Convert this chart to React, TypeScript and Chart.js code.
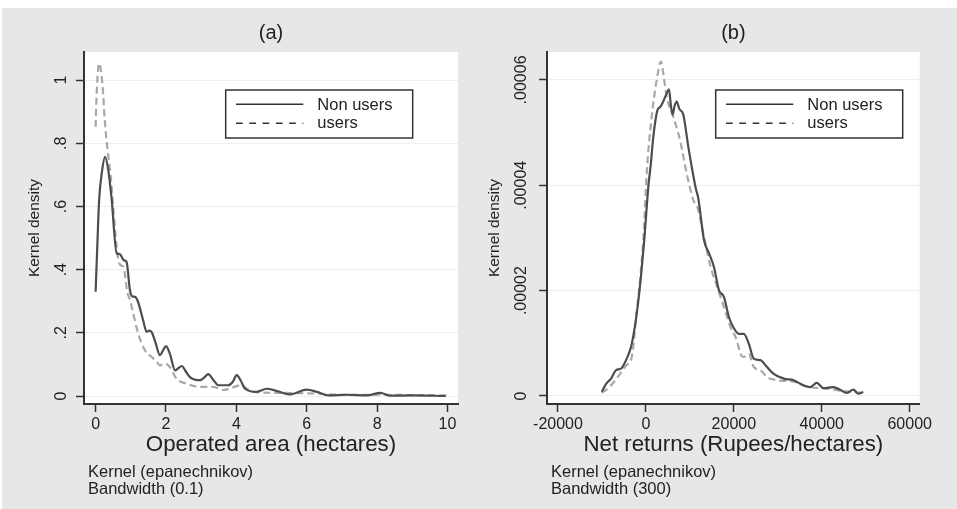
import React, { useEffect, useRef } from "react";
import { Chart, registerables } from "chart.js";

Chart.register(...registerables);

const FONT = '"Liberation Sans", Arial, Helvetica, sans-serif';

// ---------- Panel (a): Operated area ----------
const areaNonUsersX = [0, 0.04, 0.1, 0.18, 0.27, 0.36, 0.45, 0.6, 0.69, 0.8, 0.88, 0.976, 1.05, 1.12, 1.2, 1.35, 1.45, 1.52, 1.59, 1.7, 1.83, 1.92, 2.0, 2.11, 2.26, 2.35, 2.45, 2.55, 2.68, 2.97, 3.08, 3.2, 3.35, 3.49, 3.77, 3.9, 4.01, 4.12, 4.25, 4.58, 4.86, 5.15, 5.53, 6.0, 6.29, 6.62, 7.14, 7.71, 8.09, 8.37, 9.0, 9.95];
const areaNonUsersY = [0.33, 0.45, 0.62, 0.71, 0.757, 0.715, 0.63, 0.451, 0.449, 0.43, 0.424, 0.335, 0.315, 0.314, 0.3, 0.24, 0.203, 0.207, 0.203, 0.17, 0.129, 0.145, 0.158, 0.134, 0.081, 0.088, 0.095, 0.08, 0.06, 0.05, 0.058, 0.069, 0.05, 0.034, 0.034, 0.045, 0.066, 0.05, 0.023, 0.013, 0.023, 0.016, 0.005, 0.02, 0.013, 0.002, 0.004, 0.002, 0.01, 0.001, 0.002, 0];
const areaUsersX = [0, 0.03, 0.1, 0.2, 0.26, 0.33, 0.43, 0.5, 0.62, 0.7, 0.79, 0.9, 0.98, 1.07, 1.21, 1.4, 1.59, 1.72, 1.83, 1.97, 2.11, 2.3, 2.59, 2.97, 3.35, 3.63, 3.85, 4.1, 4.48, 5.24, 6.19, 7, 8, 9, 10];
const areaUsersY = [0.852, 0.958, 1.053, 0.979, 0.873, 0.789, 0.694, 0.599, 0.45, 0.415, 0.409, 0.33, 0.303, 0.261, 0.198, 0.145, 0.124, 0.11, 0.097, 0.103, 0.092, 0.055, 0.039, 0.029, 0.029, 0.019, 0.025, 0.034, 0.013, 0.01, 0.008, 0.004, 0.004, 0.003, 0.002];
const areaXTicks = [0, 2, 4, 6, 8, 10];
const areaYTicks = [0, 0.2, 0.4, 0.6, 0.8, 1];
const areaYTickLabels = ["0", ".2", ".4", ".6", ".8", "1"];

// ---------- Panel (b): Net returns ----------
const returnsNonUsersX = [-10040, -9057, -7925, -6792, -5660, -4528, -3396, -2642, -1887, -1132, -377, 543, 1132, 1680, 2642, 3203, 3774, 4500, 5250, 5700, 6092, 6500, 7002, 7600, 8504, 9642, 10416, 11321, 11917, 13208, 14340, 15472, 16604, 17736, 18868, 19849, 21132, 22264, 23396, 24528, 26038, 27547, 29057, 31321, 33585, 35849, 37358, 38868, 40377, 42642, 44151, 45660, 47170, 48302, 49434];
const returnsNonUsersY = [0.8e-6, 2.3e-6, 3.3e-6, 4.9e-6, 5.2e-6, 6.8e-6, 9.3e-6, 12.5e-6, 16.9e-6, 22.6e-6, 29.6e-6, 39.7e-6, 44.2e-6, 49.2e-6, 54.3e-6, 54.8e-6, 55.6e-6, 57.0e-6, 58.2e-6, 55.0e-6, 53.4e-6, 55.0e-6, 55.9e-6, 54.5e-6, 53.4e-6, 47.3e-6, 43.5e-6, 39.5e-6, 37.5e-6, 29.6e-6, 27.1e-6, 24.5e-6, 20.1e-6, 18.8e-6, 15.0e-6, 13.1e-6, 11.8e-6, 11.8e-6, 9.95e-6, 7.1e-6, 6.8e-6, 5.5e-6, 4.2e-6, 3.3e-6, 3.0e-6, 2.0e-6, 1.7e-6, 2.5e-6, 1.5e-6, 1.7e-6, 1.2e-6, 0.57e-6, 1.2e-6, 0.44e-6, 0.76e-6];
const returnsUsersX = [-10060, -8302, -5880, -4528, -3220, -2100, -1270, -500, 178, 1316, 2454, 3430, 4151, 4726, 6228, 7744, 9260, 10780, 11698, 13208, 14717, 16100, 17736, 19245, 20660, 21509, 22264, 23396, 24528, 26038, 27547, 29811, 33585, 37358, 41132, 44906, 49434];
const returnsUsersY = [0.6e-6, 1.7e-6, 4.2e-6, 5.8e-6, 7.4e-6, 16.0e-6, 22.6e-6, 30.9e-6, 42.3e-6, 53.0e-6, 60.0e-6, 63.5e-6, 60.0e-6, 56.8e-6, 53.0e-6, 48.6e-6, 42.3e-6, 37.2e-6, 35.9e-6, 30.2e-6, 24.5e-6, 21.0e-6, 16.9e-6, 13.1e-6, 10.6e-6, 8.0e-6, 7.4e-6, 8.0e-6, 5.5e-6, 4.9e-6, 3.6e-6, 3.0e-6, 2.7e-6, 1.7e-6, 1.4e-6, 0.95e-6, 0.57e-6];
const returnsXTicks = [-20000, 0, 20000, 40000, 60000];
const returnsYTicks = [0, 0.00002, 0.00004, 0.00006];
const returnsYTickLabels = ["0", ".00002", ".00004", ".00006"];

// ---------- Texts ----------
const seriesLabels = ["Non users", "users"];
const panelTitles = ["(a)", "(b)"];
const yTitle = "Kernel density";
const xTitles = ["Operated area (hectares)", "Net returns (Rupees/hectares)"];
const panelNotes = [
  ["Kernel (epanechnikov)", "Bandwidth (0.1)"],
  ["Kernel (epanechnikov)", "Bandwidth (300)"],
];

const toPoints = (xs: number[], ys: number[]) => xs.map((x, i) => ({ x, y: ys[i] }));

type PanelCfg = {
  left: number;
  width: number;
  title: string;
  xTitle: string;
  notes: string[];
  nonX: number[];
  nonY: number[];
  usrX: number[];
  usrY: number[];
  xTicks: number[];
  yTicks: number[];
  yTickLabels: string[];
  xMin: number;
  xMax: number;
  yMin: number;
  yMax: number;
  yAxisWidth: number;
  yTitlePad: number;
  yLabelGap: number;
  padRight: number;
  legendDX: number;
};

const HEIGHT = 509;

function Panel({ cfg }: { cfg: PanelCfg }) {
  const ref = useRef<HTMLCanvasElement>(null);

  useEffect(() => {
    if (!ref.current) return;
    const extras = {
      id: "panelExtras",
      beforeDraw(chart: any) {
        const { ctx, chartArea: a } = chart;
        ctx.save();
        ctx.fillStyle = "#ffffff";
        ctx.fillRect(a.left, a.top, a.right - a.left, a.bottom - a.top);
        ctx.restore();
      },
      afterDraw(chart: any) {
        const { ctx, chartArea: a } = chart;
        const ys = chart.scales.y;
        const xs = chart.scales.x;
        ctx.save();
        // rotated y tick labels
        ctx.fillStyle = "#222";
        ctx.font = `16px ${FONT}`;
        ctx.textAlign = "center";
        ctx.textBaseline = "middle";
        cfg.yTicks.forEach((v, i) => {
          const py = ys.getPixelForValue(v);
          ctx.save();
          ctx.translate(ys.right - cfg.yLabelGap, py);
          ctx.rotate(-Math.PI / 2);
          ctx.fillText(cfg.yTickLabels[i], 0, 0);
          ctx.restore();
        });
        // notes
        ctx.textAlign = "left";
        ctx.textBaseline = "alphabetic";
        ctx.font = `16.5px ${FONT}`;
        cfg.notes.forEach((t, i) => ctx.fillText(t, a.left + 4, xs.bottom + 18.5 + i * 17.5));
        // legend
        const lx = a.left + cfg.legendDX;
        const ly = a.top + 38;
        const lw = 187;
        const lh = 48;
        ctx.fillStyle = "#ffffff";
        ctx.fillRect(lx, ly, lw, lh);
        ctx.strokeStyle = "#333";
        ctx.lineWidth = 1.5;
        ctx.strokeRect(lx, ly, lw, lh);
        chart.data.datasets.forEach((ds: any, i: number) => {
          const sy = ly + 14.3 + i * 19;
          ctx.beginPath();
          ctx.setLineDash(i ? [6.7, 6.6] : []);
          ctx.moveTo(lx + 10.3, sy);
          ctx.lineTo(lx + 77.6, sy);
          ctx.strokeStyle = "#333";
          ctx.lineWidth = 1.4;
          ctx.stroke();
          ctx.setLineDash([]);
          ctx.fillStyle = "#222";
          ctx.fillText(ds.label, lx + 91.6, ly + 20 + i * 17.7);
        });
        ctx.restore();
      },
    };

    const chart = new Chart(ref.current, {
      type: "line",
      data: {
        datasets: [
          {
            label: seriesLabels[0],
            data: toPoints(cfg.nonX, cfg.nonY),
            borderColor: "#4d4d4d",
            borderWidth: 2.2,
            pointRadius: 0,
            cubicInterpolationMode: "monotone",
            fill: false,
          },
          {
            label: seriesLabels[1],
            data: toPoints(cfg.usrX, cfg.usrY),
            borderColor: "#a8a8a8",
            borderWidth: 2.2,
            borderDash: [7, 4],
            pointRadius: 0,
            cubicInterpolationMode: "monotone",
            fill: false,
          },
        ],
      },
      options: {
        animation: false,
        responsive: false,
        maintainAspectRatio: false,
        events: [],
        layout: { padding: { left: 0, right: cfg.padRight, top: 0, bottom: 51 } },
        plugins: {
          legend: { display: false },
          tooltip: { enabled: false },
          title: {
            display: true,
            text: cfg.title,
            fullSize: false,
            color: "#222",
            font: { family: FONT, size: 20, weight: "normal" },
            padding: { top: 21.5, bottom: 6.5 },
          },
        },
        scales: {
          x: {
            type: "linear",
            min: cfg.xMin,
            max: cfg.xMax,
            afterBuildTicks: (s: any) => {
              s.ticks = cfg.xTicks.map((v) => ({ value: v }));
            },
            afterFit: (s: any) => {
              s.height = 54;
            },
            ticks: {
              autoSkip: false,
              maxRotation: 0,
              minRotation: 0,
              padding: 2.5,
              color: "#222",
              font: { family: FONT, size: 16 },
              callback: (v: any) => String(v),
            },
            grid: { drawOnChartArea: false, tickColor: "#333", tickLength: 8, tickWidth: 1.5 },
            border: { display: true, color: "#333", width: 2 },
            title: {
              display: true,
              text: cfg.xTitle,
              color: "#222",
              font: { family: FONT, size: 22.3 },
              padding: { top: 0, bottom: 0 },
            },
          },
          y: {
            type: "linear",
            min: cfg.yMin,
            max: cfg.yMax,
            afterBuildTicks: (s: any) => {
              s.ticks = cfg.yTicks.map((v) => ({ value: v }));
            },
            afterFit: (s: any) => {
              s.width = cfg.yAxisWidth;
            },
            ticks: { display: false },
            grid: { color: "#eeeeee", lineWidth: 1, tickColor: "#333", tickLength: 8, tickWidth: 1.5 },
            border: { display: true, color: "#333", width: 2 },
            title: {
              display: true,
              text: yTitle,
              color: "#222",
              font: { family: FONT, size: 15.5 },
              padding: { top: cfg.yTitlePad, bottom: 0 },
            },
          },
        },
      },
      plugins: [extras],
    } as any);

    return () => chart.destroy();
  }, [cfg]);

  return (
    <canvas
      ref={ref}
      width={cfg.width}
      height={HEIGHT}
      style={{ position: "absolute", left: cfg.left, top: 0, width: cfg.width, height: HEIGHT }}
    />
  );
}

const panelA: PanelCfg = {
  left: 0,
  width: 478,
  title: panelTitles[0],
  xTitle: xTitles[0],
  notes: panelNotes[0],
  nonX: areaNonUsersX,
  nonY: areaNonUsersY,
  usrX: areaUsersX,
  usrY: areaUsersY,
  xTicks: areaXTicks,
  yTicks: areaYTicks,
  yTickLabels: areaYTickLabels,
  xMin: -0.33,
  xMax: 10.3,
  yMin: -0.0253,
  yMax: 1.089,
  yAxisWidth: 84,
  yTitlePad: 25.7,
  yLabelGap: 22.3,
  padRight: 20,
  legendDX: 141.7,
};

const panelB: PanelCfg = {
  left: 478,
  width: 479,
  title: panelTitles[1],
  xTitle: xTitles[1],
  notes: panelNotes[1],
  nonX: returnsNonUsersX,
  nonY: returnsNonUsersY,
  usrX: returnsUsersX,
  usrY: returnsUsersY,
  xTicks: returnsXTicks,
  yTicks: returnsYTicks,
  yTickLabels: returnsYTickLabels,
  xMin: -22502,
  xMax: 62275,
  yMin: -1.52e-6,
  yMax: 6.53e-5,
  yAxisWidth: 69,
  yTitlePad: 7.4,
  yLabelGap: 25.7,
  padRight: 37.3,
  legendDX: 168.7,
};

export default function App() {
  return (
    <div style={{ position: "fixed", left: 0, top: 0, width: 957, height: 509, background: "#ffffff", overflow: "hidden" }}>
      <div style={{ position: "absolute", left: 2, top: 8, width: 955, height: 501, background: "#e6e7e9" }} />
      <Panel cfg={panelA} />
      <Panel cfg={panelB} />
    </div>
  );
}
